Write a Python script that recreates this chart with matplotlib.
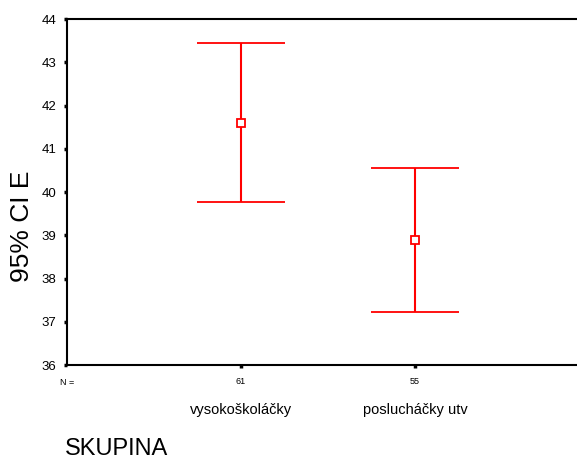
import matplotlib
matplotlib.use("Agg")
import matplotlib.pyplot as plt

# ===[ Data ]==================================================================
groups = ["vysokoškoláčky", "poslucháčky utv"]
counts = [61, 55]
means = [41.60, 38.90]
lower = [39.77, 37.23]
upper = [43.45, 40.56]

plt.rcParams['font.family'] = ['Liberation Sans', 'DejaVu Sans']

# ===[ Figure ]================================================================
fig = plt.figure(figsize=(5.77, 4.61), dpi=100)
# axes right edge runs past the figure (category 3 slot), as in the original
ax = fig.add_axes([67 / 577, 1 - 365 / 461, 522 / 577, 346 / 461])

x = list(range(1, len(groups) + 1))
yerr = [[m - lo for m, lo in zip(means, lower)],
        [up - m for m, up in zip(means, upper)]]
ax.errorbar(x, means, yerr=yerr, fmt='s', color='red', ecolor='red',
            mfc='white', mec='red', ms=6, mew=1.3, elinewidth=1.5,
            capsize=31.5, capthick=1.5)

ax.set_xlim(0, 3)
ax.set_ylim(36, 44)
ax.set_yticks(range(36, 45))
ax.set_xticks(x)
ax.set_xticklabels([str(c) for c in counts], fontsize=6.5)
ax.tick_params(axis='both', direction='out', length=2.5, width=2.5,
               colors='black')
ax.tick_params(axis='y', labelsize=9.5, pad=5)
ax.tick_params(axis='x', pad=6)
ax.spines['right'].set_visible(False)
for s in ['left', 'top', 'bottom']:
    ax.spines[s].set_linewidth(1.5)

ax.set_ylabel("95% CI E", fontsize=19)
ax.yaxis.set_label_coords(-0.064, 0.4)

# N = label under the axis origin
ax.text(0, -0.037, "N =", transform=ax.get_xaxis_transform(),
        fontsize=6.5, ha='center', va='top')
for xi, g in zip(x, groups):
    ax.text(xi, -0.11, g, transform=ax.get_xaxis_transform(),
            fontsize=10.5, ha='center', va='top')

fig.text(65 / 577, 1 - 449 / 461, "SKUPINA", fontsize=17,
         ha='left', va='center')

fig.savefig("out.png", dpi=100)
